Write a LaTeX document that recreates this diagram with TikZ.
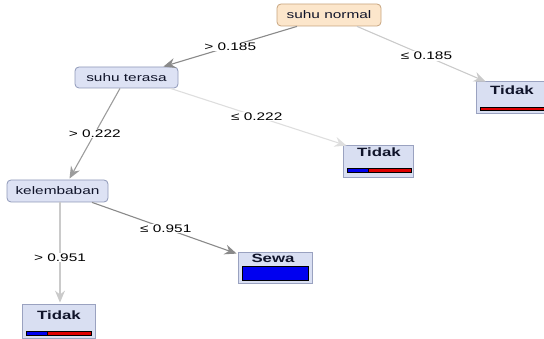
\documentclass[tikz,border=0pt]{standalone}
\usepackage{fontspec}
\setmainfont{Liberation Sans}
\usetikzlibrary{arrows.meta,calc}
% horizontally widened text, as the tree viewer renders it
\newcommand\wx[1]{\scalebox{1.4}[1]{#1}}
\definecolor{rootfill}{HTML}{FCE6CB}
\definecolor{rootdraw}{HTML}{C7A47E}
\definecolor{innfill}{HTML}{DDE2F4}
\definecolor{inndraw}{HTML}{8E98B8}
\definecolor{leaffill}{HTML}{D9DFF2}
\definecolor{leafdraw}{HTML}{9AA2C0}
\definecolor{barred}{HTML}{E00000}
\definecolor{barblue}{HTML}{0000F0}
\definecolor{edgedark}{HTML}{8A8A8A}
\definecolor{edgemid}{HTML}{9C9C9C}
\definecolor{edgelight}{HTML}{CACACA}
\definecolor{edgefaint}{HTML}{DEDEDE}
\definecolor{inktext}{HTML}{10142A}
\begin{document}
\begin{tikzpicture}[x=1pt,y=-1pt,
  inner/.style={draw=inndraw,fill=innfill,rounded corners=4pt,line width=0.8pt,
    minimum height=22pt,inner sep=0pt,text=inktext,font=\fontsize{11}{13}\selectfont},
  rootnode/.style={inner,draw=rootdraw,fill=rootfill},
  leafbox/.style={draw=leafdraw,fill=leaffill,line width=0.8pt,inner sep=0pt},
  ttl/.style={font=\bfseries\fontsize{12}{14}\selectfont,inner sep=0pt,text=inktext},
  barpart/.style={line width=0.6pt,draw=black},
  edge/.style={line width=1.1pt,-{Stealth[length=12pt,width=10pt,inset=4pt]}},
  lbl/.style={fill=white,inner sep=1pt,text=black,font=\fontsize{11}{13}\selectfont}]
\useasboundingbox (0,0) rectangle (544,339);
\clip (0,0) rectangle (544,339);

% decision nodes
\node[rootnode,minimum width=104pt] (root) at (329,15) {\wx{suhu normal}};
\node[inner,minimum width=103pt,minimum height=21pt] (terasa) at (126.5,77.5) {\wx{suhu terasa}};
\node[inner,minimum width=101pt] (kel) at (57.5,191) {\wx{kelembaban}};

% leaves: box, class title, distribution bar
\node[leafbox,minimum width=72pt,minimum height=32pt] (tR) at (512,97) {};
\node[ttl] (tRt) at (512,90) {\wx{Tidak}};
\filldraw[fill=barred,barpart] (480,107) rectangle (550,110.5);

\node[leafbox,minimum width=70pt,minimum height=32pt] (tM) at (378,161) {};
\node[ttl] (tMt) at (379,152) {\wx{Tidak}};
\filldraw[fill=barblue,barpart] (347,168.5) rectangle (368,172);
\filldraw[fill=barred,barpart] (368,168.5) rectangle (411,172);

\node[leafbox,minimum width=74pt,minimum height=31pt] (sewa) at (275,267.5) {};
\node[ttl] (sewat) at (273,258) {\wx{Sewa}};
\filldraw[fill=barblue,barpart] (242,266) rectangle (308,280);

\node[leafbox,minimum width=73pt,minimum height=34pt] (tB) at (58.5,321) {};
\node[ttl] (tBt) at (59,315) {\wx{Tidak}};
\filldraw[fill=barblue,barpart] (26,331) rectangle (47,335);
\filldraw[fill=barred,barpart] (47,331) rectangle (91,335);

% branches
\draw[edge,edgedark] ($(root.south)+(-32,0)$) -- ($(terasa.north east)+(-15,0)$)
  node[lbl,pos=0.5] (l1) {\wx{> 0.185}};
\draw[edge,edgelight] ($(root.south)+(28,0)$) -- ($(tR.north west)+(10,1)$)
  node[lbl,pos=0.54] (l2) {\wx{≤ 0.185}};
\draw[edge,edgemid] ($(terasa.south)+(-6.5,0)$) -- ($(kel.north)+(12,-1)$)
  node[lbl,pos=0.5] (l3) {\wx{> 0.222}};
\draw[edge,edgefaint] ($(terasa.south east)+(-8,0)$) -- ($(tM.north west)+(4,1)$)
  node[lbl,pos=0.49] (l4) {\wx{≤ 0.222}};
\draw[edge,edgedark] ($(kel.south)+(34.5,0)$) -- ($(sewa.north west)+(-1,2)$)
  node[lbl,pos=0.51] (l5) {\wx{≤ 0.951}};
\draw[edge,edgelight] ($(kel.south)+(2.5,0)$) -- ($(tB.north)+(1.5,-1)$)
  node[lbl,pos=0.55] (l6) {\wx{> 0.951}};
\end{tikzpicture}
\end{document}
